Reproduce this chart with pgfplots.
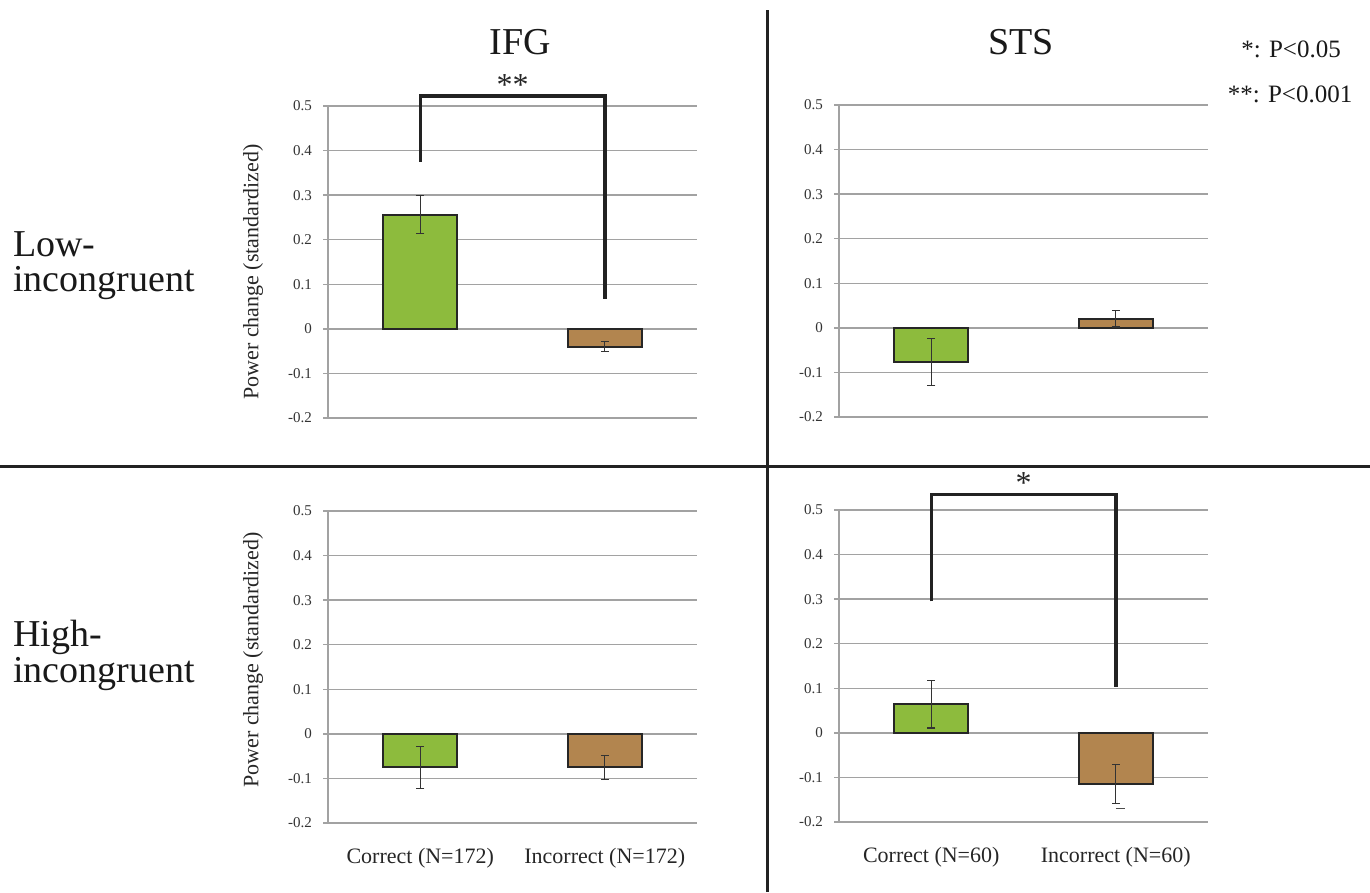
\documentclass[border=0pt]{standalone}
\usepackage{fontspec}
\setmainfont{Liberation Serif}
\usepackage{pgfplots}
\pgfplotsset{compat=1.18}
\definecolor{barG}{HTML}{8DBB3D}
\definecolor{barB}{HTML}{B2854F}
\definecolor{gridc}{HTML}{A2A2A2}
\definecolor{edge}{HTML}{262626}
\definecolor{dark}{HTML}{222222}
\pgfplotsset{
  panel/.style={
    scale only axis, width=369pt, height=312pt,
    anchor=south west, clip=false,
    xmin=-0.5, xmax=1.5, ymin=-0.2, ymax=0.5,
    ytick={-0.2,-0.1,0,0.1,0.2,0.3,0.4,0.5},
    yticklabels={-0.2,-0.1,0,0.1,0.2,0.3,0.4,0.5},
    ymajorgrids, grid style={gridc, line width=1.4pt},
    axis lines*=left,
    axis line style={-, gridc, line width=1.4pt},
    x axis line style={draw=none},
    ytick align=outside, xtick align=inside,
    major tick length=5pt,
    ytick style={gridc, line width=1.4pt},
    xtick style={draw=none},
    yticklabel style={font=\fontsize{15}{18}\selectfont, text=black!80, inner sep=0pt, xshift=-11pt},
    xtick={0,1},
    xticklabel style={font=\fontsize{22}{26}\selectfont, text=black!85, anchor=base, yshift=-40pt, inner sep=0pt},
  },
  ebar/.style={
    error bars/.cd, y dir=both, y explicit,
    error bar style={line width=1.1pt, black!80},
    error mark options={rotate=90, line width=1.1pt, black!80, mark size=4pt}},
  gbar/.style={ybar, bar width=74pt, /pgf/bar shift=0pt, fill=barG, draw=edge, line width=1.8pt, ebar},
  bbar/.style={ybar, bar width=74pt, /pgf/bar shift=0pt, fill=barB, draw=edge, line width=1.8pt, ebar},
}
\begin{document}
\begin{tikzpicture}
\path[use as bounding box] (0,0) rectangle (1370pt,892pt);

% dividers
\draw[dark, line width=3pt] (767pt,0pt) -- (767pt,882pt);
\draw[dark, line width=3pt] (0pt,425pt) -- (1370pt,425pt);

% titles
\node[anchor=base, inner sep=0pt, font=\fontsize{38}{44}\selectfont, text=black!90] at (520pt,837pt) {IFG};
\node[anchor=base, inner sep=0pt, font=\fontsize{38}{44}\selectfont, text=black!90] at (1021pt,837pt) {STS};
\node[anchor=base, inner sep=0pt, font=\fontsize{25}{30}\selectfont, text=black!90] at (1291pt,834pt) {*: P<0.05};
\node[anchor=base, inner sep=0pt, font=\fontsize{25}{30}\selectfont, text=black!90] at (1290pt,789pt) {**: P<0.001};

% row labels
\node[anchor=base west, inner sep=0pt, font=\fontsize{38}{44}\selectfont, text=black!90] at (13pt,635pt) {Low-};
\node[anchor=base west, inner sep=0pt, font=\fontsize{38}{44}\selectfont, text=black!90] at (13pt,600pt) {incongruent};
\node[anchor=base west, inner sep=0pt, font=\fontsize{38}{44}\selectfont, text=black!90] at (13pt,246pt) {High-};
\node[anchor=base west, inner sep=0pt, font=\fontsize{38}{44}\selectfont, text=black!90] at (13pt,210pt) {incongruent};

% y labels
\node[rotate=90, inner sep=0pt, font=\fontsize{22}{26}\selectfont, text=black!85] at (253pt,620pt) {Power change (standardized)};
\node[rotate=90, inner sep=0pt, font=\fontsize{22}{26}\selectfont, text=black!85] at (253pt,232pt) {Power change (standardized)};

% Top-left: IFG, Low-incongruent
\begin{axis}[panel, at={(328pt,474pt)}, xticklabels={}]
\addplot[gbar] coordinates {(0,0.256) +- (0,0.043)};
\addplot[bbar] coordinates {(1,-0.040) +- (0,0.011)};
\draw[dark, line width=3.5pt] (axis cs:0,0.375) -- (axis cs:0,0.522) -- (axis cs:1,0.522) -- (axis cs:1,0.067);
\node[anchor=base, inner sep=0pt, font=\fontsize{32}{36}\selectfont, text=black!85] at (axis cs:0.5,0.522) [yshift=1pt] {**};
\end{axis}

% Top-right: STS, Low-incongruent
\begin{axis}[panel, at={(839pt,475pt)}, xticklabels={}]
\addplot[gbar] coordinates {(0,-0.077) +- (0,0.053)};
\addplot[bbar] coordinates {(1,0.020) +- (0,0.018)};
\end{axis}

% Bottom-left: IFG, High-incongruent
\begin{axis}[panel, at={(328pt,69pt)}, xticklabels={Correct (N=172),Incorrect (N=172)}]
\addplot[gbar] coordinates {(0,-0.075) +- (0,0.047)};
\addplot[bbar] coordinates {(1,-0.075) +- (0,0.027)};
\end{axis}

% Bottom-right: STS, High-incongruent
\begin{axis}[panel, at={(839pt,70pt)}, xticklabels={Correct (N=60),Incorrect (N=60)}]
\addplot[gbar] coordinates {(0,0.064) +- (0,0.053)};
\addplot[bbar] coordinates {(1,-0.114) +- (0,0.044)};
\draw[dark, line width=3.5pt] (axis cs:0,0.295) -- (axis cs:0,0.535) -- (axis cs:1,0.535) -- (axis cs:1,0.103);
\node[anchor=base, inner sep=0pt, font=\fontsize{32}{36}\selectfont, text=black!85] at (axis cs:0.5,0.535) [yshift=1pt] {*};
\draw[black!70, line width=0.8pt] (axis cs:1.0,-0.169) -- (axis cs:1.05,-0.169);
\end{axis}
\end{tikzpicture}
\end{document}
